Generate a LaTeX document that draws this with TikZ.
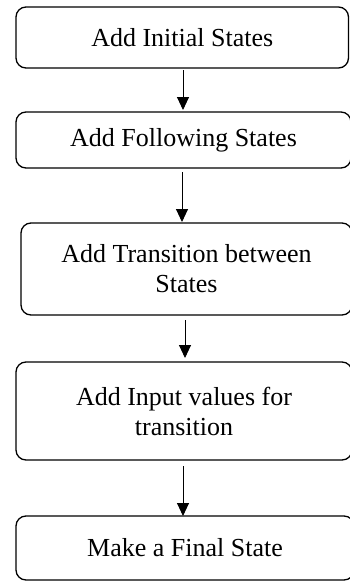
\documentclass[tikz,border=0pt]{standalone}
\usepackage{fontspec}
\setmainfont{Liberation Serif}
\usetikzlibrary{arrows.meta}
\tikzset{
  stepbox/.style={draw, line width=1.3pt, rounded corners=10pt, align=center,
    font=\fontsize{26}{30}\selectfont, inner sep=0pt, outer sep=0pt},
  flow/.style={draw, line width=0.9pt, -{Triangle[length=13pt,width=12pt]}}
}
\begin{document}
\begin{tikzpicture}[x=1pt,y=-1pt]
\useasboundingbox (0,0) rectangle (350,582);
\clip (0,0) rectangle (350,582);
% process steps
\node[stepbox, minimum width=332.5pt, minimum height=61pt] (b1) at (182.25,37.5) {Add Initial States};
\node[stepbox, minimum width=335pt, minimum height=56pt] (b2) at (183.5,140) {Add Following States};
\node[stepbox, minimum width=331pt, minimum height=92pt] (b3) at (186.5,269) {Add Transition between\\States};
\node[stepbox, minimum width=336pt, minimum height=98pt] (b4) at (184,411) {Add Input values for\\transition};
\node[stepbox, minimum width=338pt, minimum height=64pt] (b5) at (185,548) {Make a Final State};
% connectors
\draw[flow, shorten <=2pt, shorten >=2pt] (b1.south -| 183,0) -- (b2.north -| 183,0);
\draw[flow, shorten <=4pt, shorten >=1pt] (b2.south -| 182,0) -- (b3.north -| 182,0);
\draw[flow, shorten <=5pt, shorten >=4pt] (b3.south -| 185,0) -- (b4.north -| 185,0);
\draw[flow, shorten <=6pt, shorten >=0pt] (b4.south -| 183,0) -- (b5.north -| 183,0);
\end{tikzpicture}
\end{document}
